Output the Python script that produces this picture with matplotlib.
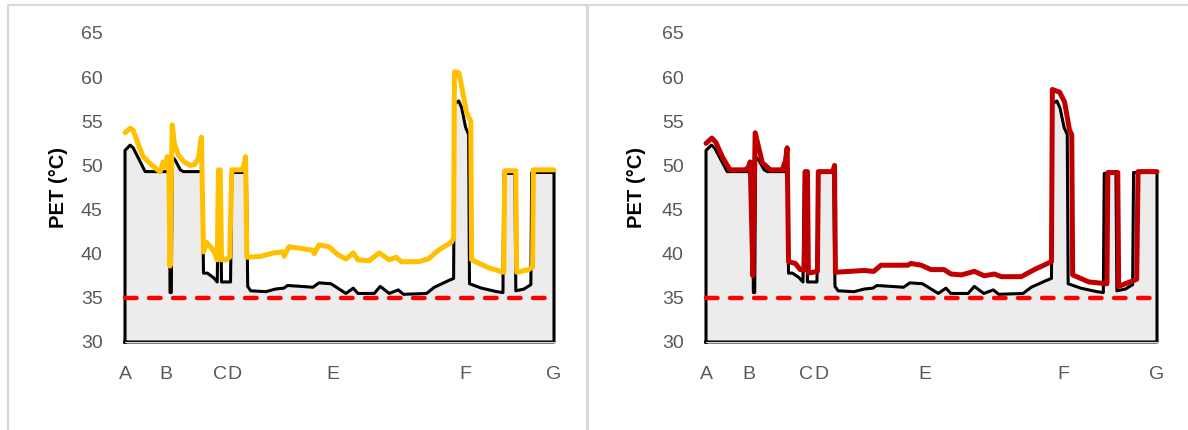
import matplotlib
matplotlib.use('Agg')
import matplotlib.pyplot as plt
from matplotlib.lines import Line2D

plt.rcParams['font.family'] = ['Liberation Sans', 'DejaVu Sans']

# position along the route (0 = A, 100 = G)
base_x = [0, 1.2, 1.9, 4.7, 10.3, 10.5, 10.8, 11.0, 11.7, 12.9, 13.6, 18.0, 18.3, 19.2,
          20.6, 21.5, 21.8, 22.2, 22.5, 24.6, 24.9, 28.3, 28.6, 29.3, 32.8, 35.1, 37.0,
          37.9, 41.0, 43.8, 45.2, 48.0, 49.6, 51.5, 53.2, 54.3, 58.1, 59.5, 61.6, 63.7,
          64.9, 70.3, 72.1, 75.6, 76.6, 76.8, 77.8, 78.5, 79.4, 80.1, 80.3, 83.1, 86.7,
          88.1, 88.3, 90.9, 91.1, 93.0, 94.6, 94.8, 100]
base_y = [51.7, 52.3, 52.0, 49.3, 49.3, 35.6, 35.6, 51.0, 50.6, 49.5, 49.3, 49.3, 37.8, 37.8,
          37.3, 36.8, 49.3, 49.3, 36.8, 36.8, 49.2, 49.2, 36.3, 35.8, 35.7, 36.0, 36.1,
          36.4, 36.3, 36.2, 36.7, 36.6, 36.1, 35.5, 36.1, 35.5, 35.5, 36.3, 35.5, 35.9,
          35.4, 35.5, 36.2, 37.0, 37.2, 57.0, 57.3, 56.5, 54.3, 53.5, 36.6, 36.1, 35.7,
          35.6, 49.1, 49.1, 35.8, 36.0, 36.5, 49.2, 49.2]

yellow_x = [0, 1.2, 1.9, 3.0, 4.2, 5.9, 7.3, 8.2, 8.9, 9.4, 9.8, 10.2, 10.5, 11.0, 11.5,
            12.4, 13.8, 15.2, 16.2, 17.1, 17.8, 18.3, 19.0, 19.9, 20.8, 21.5, 21.8, 22.2,
            22.5, 23.4, 24.4, 24.9, 27.2, 27.6, 28.1, 28.4, 31.6, 34.7, 36.8, 37.1, 38.2,
            41.0, 43.8, 44.1, 45.2, 47.5, 49.6, 51.5, 53.2, 54.3, 56.9, 59.3, 61.6, 63.2,
            64.4, 68.4, 70.7, 73.1, 76.1, 76.6, 76.8, 77.8, 78.5, 79.6, 80.6, 80.8, 84.8,
            88.3, 88.5, 91.1, 91.3, 94.1, 95.0, 95.2, 100]
yellow_y = [53.7, 54.2, 54.0, 52.5, 51.0, 50.2, 49.6, 49.3, 50.4, 49.8, 51.0, 50.8, 38.6, 54.6,
            52.5, 51.2, 50.4, 50.0, 50.1, 50.8, 53.2, 40.2, 41.3, 40.8, 40.2, 39.3, 49.5,
            49.5, 39.3, 39.3, 39.6, 49.5, 49.5, 49.8, 51.0, 39.6, 39.7, 40.1, 40.2, 39.7,
            40.8, 40.6, 40.4, 40.0, 41.0, 40.8, 39.9, 39.4, 40.1, 39.3, 39.2, 40.1, 39.3,
            39.6, 39.1, 39.1, 39.4, 40.4, 41.3, 41.8, 60.6, 60.5, 58.9, 56.0, 55.0, 39.3,
            38.4, 37.9, 49.4, 49.4, 37.9, 38.2, 38.5, 49.5, 49.5]

red_x = [0, 1.3, 2.2, 3.6, 5.3, 8.7, 9.4, 9.8, 10.4, 10.9, 12.5, 14.3, 16.9, 17.6, 18.0,
         18.3, 19.8, 20.9, 21.8, 22.0, 22.5, 22.7, 24.7, 24.9, 28.1, 28.5, 28.7, 35.0,
         37.2, 38.8, 44.8, 45.4, 47.7, 49.9, 52.8, 54.3, 56.6, 59.5, 61.7, 63.9, 65.5,
         69.9, 72.8, 76.6, 76.8, 78.4, 79.5, 80.6, 81.1, 81.3, 84.9, 88.9, 89.1, 91.3,
         91.5, 95.5, 95.8, 100]
red_y = [52.5, 53.1, 52.6, 51.0, 49.5, 49.5, 49.8, 50.4, 37.5, 53.7, 50.3, 49.5, 49.5, 50.5,
         52.0, 39.1, 38.9, 38.2, 38.2, 49.3, 49.3, 37.8, 38.0, 49.3, 49.3, 50.0, 37.9,
         38.1, 38.0, 38.7, 38.7, 38.9, 38.7, 38.2, 38.2, 37.7, 37.6, 38.0, 37.5, 37.7,
         37.4, 37.4, 38.2, 39.1, 58.6, 58.3, 57.2, 54.0, 53.5, 37.6, 36.8, 36.6, 49.2,
         49.2, 36.3, 37.1, 49.3, 49.3]

tick_pos = [0, 9.6, 22.1, 25.5, 48.5, 79.3, 100]
tick_lab = ['A', 'B', 'C', 'D', 'E', 'F', 'G']
threshold = 35
yticks = [30, 35, 40, 45, 50, 55, 60, 65]

W, H = 1188, 430
fig = plt.figure(figsize=(W / 100, H / 100), dpi=100)


def draw(rect, x2, y2, color):
    ax = fig.add_axes(rect)
    ax.fill_between(base_x, 30, base_y, color='#ececec', lw=0, zorder=1)
    ax.plot([0] + base_x + [100, 0], [30] + base_y + [30, 30], color='black', lw=2.2,
            clip_on=False, solid_joinstyle='round', zorder=2)
    ax.plot(x2, y2, color=color, lw=3.6, clip_on=False, solid_joinstyle='round',
            solid_capstyle='round', zorder=3)
    ax.axhline(threshold, color='#ff0000', lw=3.2, ls=(0, (2.6, 2.8)),
               dash_capstyle='round', clip_on=False, zorder=4)
    ax.set_xlim(0, 100)
    ax.set_ylim(30, 65)
    ax.set_yticks(yticks)
    ax.set_xticks(tick_pos)
    ax.set_xticklabels(tick_lab)
    for s in ['top', 'right', 'left']:
        ax.spines[s].set_visible(False)
    ax.spines['bottom'].set_color('#d9d9d9')
    ax.tick_params(axis='both', length=0, labelsize=14, labelcolor='#595959')
    ax.tick_params(axis='y', pad=16)
    ax.tick_params(axis='x', pad=17)
    ax.set_ylabel('PET (°C)', fontsize=14.5, fontweight='bold')
    ax.yaxis.set_label_coords(-0.133, 0.5)
    ax.patch.set_visible(False)
    return ax


draw([125 / W, 88 / H, 429 / W, 309 / H], yellow_x, yellow_y, '#ffc000')
draw([706 / W, 88 / H, 451 / W, 309 / H], red_x, red_y, '#c00000')

# panel borders
bc = '#d9d9d9'
fig.add_artist(Line2D([8 / W, 1], [1 - 5 / H, 1 - 5 / H], color=bc, lw=1.5))
fig.add_artist(Line2D([8 / W, 8 / W], [0, 1 - 5 / H], color=bc, lw=1.5))
fig.add_artist(Line2D([587 / W, 587 / W], [0, 1 - 5 / H], color=bc, lw=2.2))

fig.savefig('out.png', dpi=100)
